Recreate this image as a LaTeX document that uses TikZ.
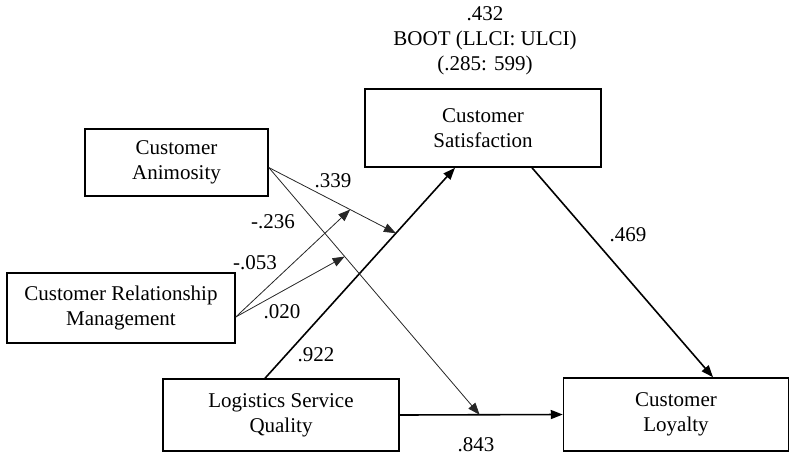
\documentclass[tikz,border=0pt]{standalone}
\usepackage{fontspec}
\setmainfont{Liberation Serif}
\usetikzlibrary{positioning, arrows.meta}

\begin{document}
\begin{tikzpicture}[x=1pt, y=-1pt]
\tikzstyle{construct}=[draw, rectangle, line width=1.5pt, align=center, font=\fontsize{21}{25}\selectfont, inner sep=0pt]
\tikzstyle{mainarrow}=[draw, line width=1.6pt, -{Triangle[length=12pt, width=9pt]}]
\tikzstyle{moder}=[draw, line width=0.8pt, black!85, -{Triangle[length=12pt, width=9pt]}]
\tikzstyle{coef}=[font=\fontsize{21}{25}\selectfont, align=center]

\useasboundingbox (0,0) rectangle (791,455);

\node[construct, minimum width=183pt, minimum height=67pt](anim) at (176.5,162.5) {Customer\\Animosity};
\node[construct, minimum width=236pt, minimum height=78pt](sat) at (483,128) {Customer\\Satisfaction};
\node[construct, minimum width=228pt, minimum height=70pt](crm) at (121,308) {Customer Relationship\\Management};
\node[construct, minimum width=236pt, minimum height=72pt](lsq) at (281,415) {Logistics Service\\Quality};
\node[construct, minimum width=225pt, minimum height=73pt](loyal) at (676,414.5) {Customer\\Loyalty};

\node[coef](boot) at (485,41) {.432\\BOOT (LLCI: ULCI)\\(.285: 599)};

% direct paths
\path[mainarrow] ([xshift=-16pt]lsq.north) -- coordinate[pos=0.689](m1) ([xshift=-28pt]sat.south);
\path[mainarrow] ([xshift=49pt]sat.south) -- ([xshift=37pt]loyal.north);
\path[mainarrow] (lsq.east) -- coordinate[pos=0.49](m2) (loyal.west);

% moderation
\path[moder] ([yshift=-5pt]anim.east) -- coordinate[pos=0.64](c1) (m1);
\path[moder] ([yshift=-5pt]anim.east) -- coordinate[pos=0.36](c2) (m2);
\path[moder] ([yshift=-9pt]crm.east) -- (c1);
\path[moder] ([yshift=-9pt]crm.east) -- (c2);

\node[coef](k339) at (333,181) {.339};
\node[coef](k236) at (273,222) {-.236};
\node[coef](k053) at (255,263) {-.053};
\node[coef](k020) at (282,312) {.020};
\node[coef](k922) at (316,355) {.922};
\node[coef](k469) at (628,235) {.469};
\node[coef](k843) at (476,445) {.843};

\end{tikzpicture}
\end{document}
